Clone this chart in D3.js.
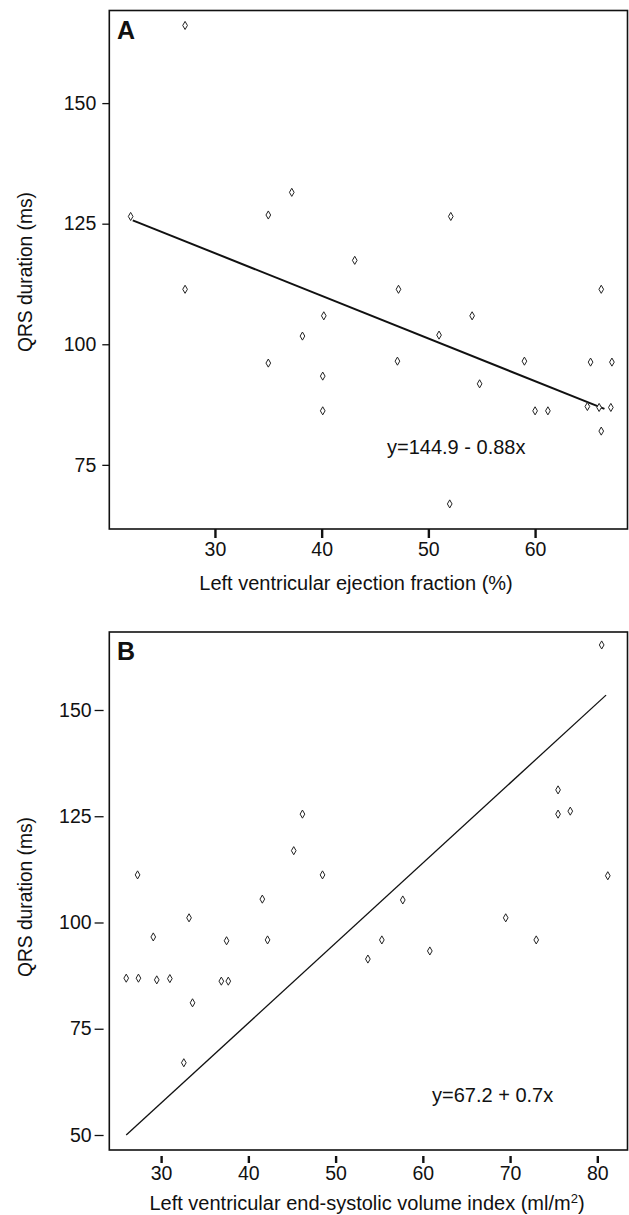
<!DOCTYPE html>
<html>
<head>
<meta charset="utf-8">
<script src="https://cdn.jsdelivr.net/npm/d3@7"></script>
<style>
  body { margin: 0; background: #fff; }
  text { font-family: "Liberation Sans", Arial, sans-serif; fill: #111; }
</style>
</head>
<body>
<svg id="chart" width="629" height="1215"></svg>
<script>

// panel A - ejection fraction vs QRS
let efA  = [27.2, 22.1, 37.2, 35.0, 52.1, 43.1, 27.2, 47.2, 66.2, 40.2, 54.1, 38.2, 51.0, 35.0,
            47.1, 59.0, 65.2, 67.2, 40.1, 54.8, 40.1, 60.0, 61.2, 64.9, 66.0, 67.1, 66.2, 52.0];
let qrsA = [166.1, 126.5, 131.5, 126.8, 126.5, 117.4, 111.4, 111.4, 111.4, 105.9, 105.9, 101.7, 101.9, 96.1,
            96.5, 96.5, 96.3, 96.3, 93.4, 91.8, 86.2, 86.2, 86.2, 87.1, 86.9, 86.9, 82.0, 66.9];
let fitAx = [22.3, 66.5];
let fitAy = [125.7, 86.6];
let ticksAx = [30, 40, 50, 60];
let ticksAy = [75, 100, 125, 150];

// panel B - end-systolic volume index vs QRS
let esviB = [80.5, 75.5, 75.5, 76.9, 46.2, 45.2, 48.5, 27.3, 81.2, 41.6, 57.7, 33.2, 69.5, 29.1,
             37.5, 42.2, 55.3, 73.0, 60.8, 53.7, 26.0, 27.4, 29.5, 31.0, 36.9, 37.7, 33.6, 32.6];
let qrsB  = [165.3, 131.2, 125.5, 126.2, 125.5, 116.9, 111.2, 111.2, 111.0, 105.5, 105.3, 101.1, 101.1, 96.6,
             95.7, 95.9, 95.9, 95.9, 93.3, 91.4, 86.9, 86.9, 86.5, 86.8, 86.2, 86.2, 81.1, 67.0];
let fitBx = [26.0, 81.0];
let fitBy = [50.0, 153.5];
let ticksBx = [30, 40, 50, 60, 70, 80];
let ticksBy = [50, 75, 100, 125, 150];

let svg = d3.select('#chart');
svg.append('rect').attr('width', 629).attr('height', 1215).attr('fill', '#fff');

let left = 109.3, right = 627.5;
let font = '"Liberation Sans", Arial, sans-serif';

function drawPanel(p) {
  let x = d3.scaleLinear().domain(p.xDomain).range([left, right]);
  let y = d3.scaleLinear().domain(p.yDomain).range([p.bottom, p.top]);
  let g = svg.append('g');

  // x axis
  let xa = g.append('g')
      .attr('transform', 'translate(0,' + (p.bottom + p.xGap) + ')')
      .call(d3.axisBottom(x).tickValues(p.xTicks).tickSize(p.xTickLen).tickPadding(p.xPad));
  xa.select('.domain').remove();
  xa.selectAll('line').attr('stroke', '#111').attr('stroke-width', 2.4);
  xa.selectAll('text').attr('font-size', 19.5).attr('font-family', font).attr('fill', '#111');

  // y axis
  let ya = g.append('g')
      .attr('transform', 'translate(' + (left - p.yGap) + ',0)')
      .call(d3.axisLeft(y).tickValues(p.yTicks).tickSize(p.yTickLen).tickPadding(p.yPad));
  ya.select('.domain').remove();
  ya.selectAll('line').attr('stroke', '#111').attr('stroke-width', 1.3);
  ya.selectAll('text').attr('font-size', 19.5).attr('font-family', font).attr('fill', '#111');

  // frame
  g.append('rect')
    .attr('x', left).attr('y', p.top)
    .attr('width', right - left).attr('height', p.bottom - p.top)
    .attr('fill', 'none').attr('stroke', '#111').attr('stroke-width', 1.6);

  // fit line
  g.append('line')
    .attr('x1', x(p.fitX[0])).attr('y1', y(p.fitY[0]))
    .attr('x2', x(p.fitX[1])).attr('y2', y(p.fitY[1]))
    .attr('stroke', '#111').attr('stroke-width', p.lineW);

  // points
  let sym = d3.symbol(d3.symbolDiamond).size(19);
  g.selectAll('path.pt')
    .data(p.xs.map(function(d, i) { return [d, p.ys[i]]; }))
    .join('path')
    .attr('class', 'pt')
    .attr('d', sym)
    .attr('transform', function(d) { return 'translate(' + x(d[0]) + ',' + y(d[1]) + ')'; })
    .attr('fill', '#fff').attr('stroke', '#222').attr('stroke-width', 1);

  g.append('text').attr('x', 117).attr('y', p.top + 28)
    .attr('font-size', 25).attr('font-weight', 'bold').text(p.letter);

  g.append('text').attr('x', p.eqX).attr('y', p.eqY)
    .attr('font-size', 20).text(p.eq);

  g.append('text').attr('x', p.titleX).attr('y', p.titleY)
    .attr('text-anchor', 'middle').attr('font-size', 20).html(p.xTitle);

  g.append('text')
    .attr('transform', 'translate(32,' + p.yTitleY + ') rotate(-90)')
    .attr('text-anchor', 'middle').attr('font-size', 20)
    .attr('textLength', 160).attr('lengthAdjust', 'spacingAndGlyphs')
    .text('QRS duration (ms)');
}

drawPanel({
  top: 10.5, bottom: 529, xDomain: [20.1, 68.66], yDomain: [61.7, 169.2],
  xTicks: ticksAx, yTicks: ticksAy,
  xGap: 0, xTickLen: 9, xPad: 4, yGap: 0, yTickLen: 7, yPad: 6,
  xs: efA, ys: qrsA, fitX: fitAx, fitY: fitAy, lineW: 2,
  letter: 'A', eq: 'y=144.9 - 0.88x', eqX: 387, eqY: 453.5,
  xTitle: 'Left ventricular ejection fraction (%)', titleX: 356, titleY: 590,
  yTitleY: 272
});

drawPanel({
  top: 632, bottom: 1150, xDomain: [24.06, 83.46], yDomain: [46.47, 168.35],
  xTicks: ticksBx, yTicks: ticksBy,
  xGap: 6, xTickLen: 7, xPad: 3.5, yGap: 5.7, yTickLen: 9, yPad: 3,
  xs: esviB, ys: qrsB, fitX: fitBx, fitY: fitBy, lineW: 1.3,
  letter: 'B', eq: 'y=67.2 + 0.7x', eqX: 432, eqY: 1102,
  xTitle: 'Left ventricular end-systolic volume index (ml/m<tspan dy="-7" font-size="13">2</tspan><tspan dy="7">)</tspan>',
  titleX: 367, titleY: 1210,
  yTitleY: 897
});

</script>
</body>
</html>
